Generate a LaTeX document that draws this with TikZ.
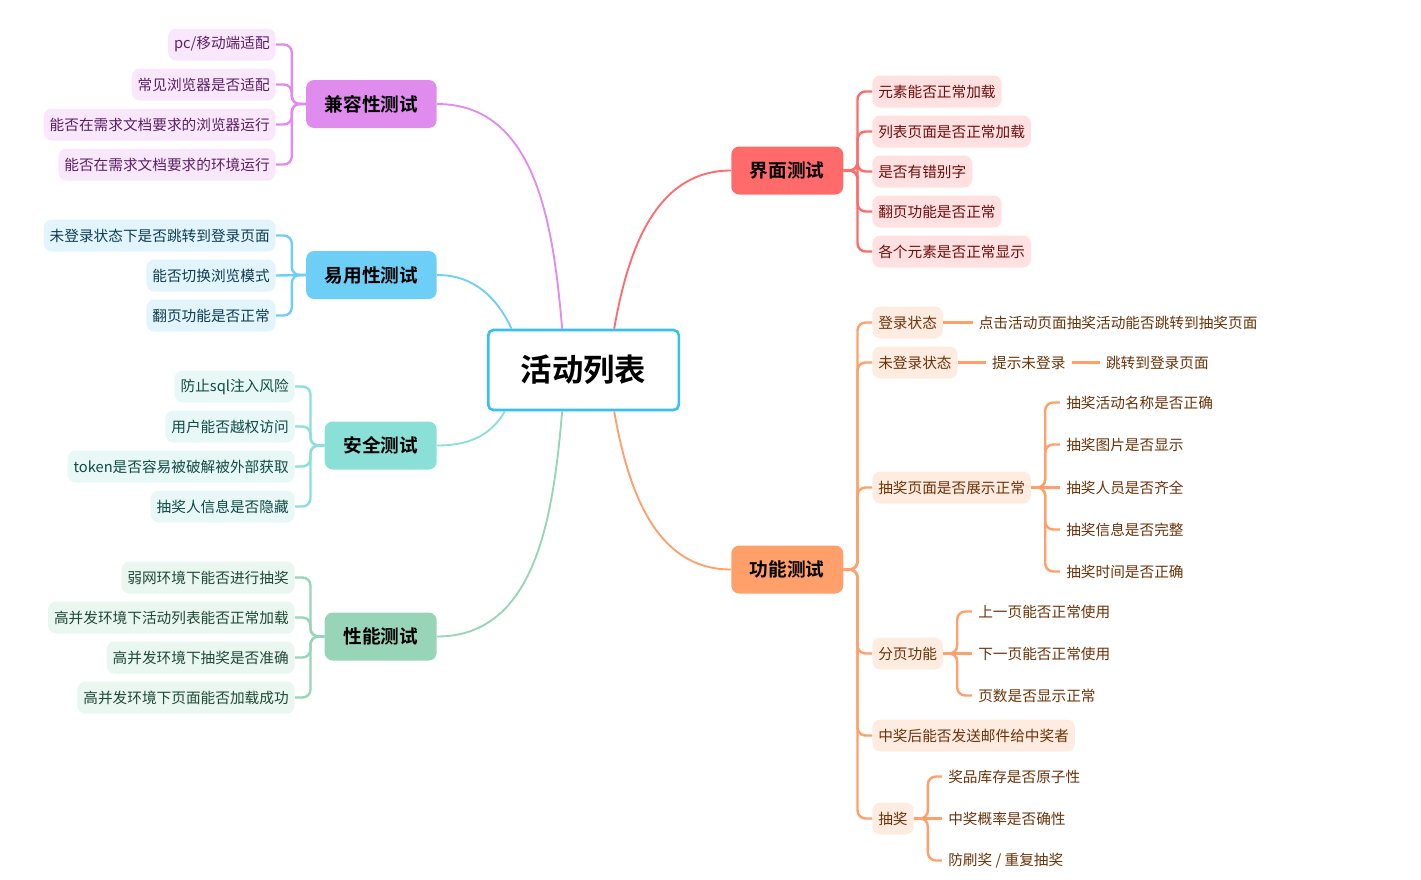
\documentclass[tikz,border=0pt]{standalone}
\usepackage{fontspec}
\setmainfont{Noto Sans CJK SC}[BoldFont={Noto Sans CJK SC Bold}]
\usepackage{tikz}
\usetikzlibrary{positioning}

\definecolor{cpurple}{HTML}{E08CEE}
\definecolor{cpurplebg}{HTML}{F9E8FC}
\definecolor{cpurpletx}{HTML}{5B1F66}
\definecolor{cblue}{HTML}{6ECFF6}
\definecolor{cbluebg}{HTML}{E2F5FD}
\definecolor{cbluetx}{HTML}{0E3C52}
\definecolor{cteal}{HTML}{8AE0D6}
\definecolor{ctealbg}{HTML}{E7F8F6}
\definecolor{ctealtx}{HTML}{0F4A44}
\definecolor{cgreen}{HTML}{98D4B8}
\definecolor{cgreenbg}{HTML}{EAF6F0}
\definecolor{cgreentx}{HTML}{1E4A35}
\definecolor{cred}{HTML}{FF6B6B}
\definecolor{credbg}{HTML}{FFE1E1}
\definecolor{credtx}{HTML}{6E0D0D}
\definecolor{corange}{HTML}{FFA06A}
\definecolor{corangebg}{HTML}{FFECE1}
\definecolor{corangetx}{HTML}{6B3208}
\definecolor{ccenter}{HTML}{3BBEF0}

\begin{document}
\begin{tikzpicture}[
    x=0.75pt, y=0.75pt,
    root/.style={draw=ccenter, line width=2pt, fill=white, rounded corners=4pt, minimum width=143pt, minimum height=60pt, font=\fontsize{23.5}{28}\selectfont\bfseries},
    topic/.style={rounded corners=6pt, minimum height=36pt, inner xsep=14pt, text=black, font=\fontsize{14}{17}\selectfont\bfseries},
    leaf/.style={rounded corners=6pt, minimum height=24pt, inner xsep=4.5pt, font=\fontsize{11}{13}\selectfont},
    plain/.style={inner xsep=4.5pt, minimum height=24pt, text=corangetx, font=\fontsize{11}{13}\selectfont},
    compleaf/.style={leaf, fill=cpurplebg, text=cpurpletx, anchor=east},
    easyleaf/.style={leaf, fill=cbluebg, text=cbluetx, anchor=east},
    safeleaf/.style={leaf, fill=ctealbg, text=ctealtx, anchor=east},
    perfleaf/.style={leaf, fill=cgreenbg, text=cgreentx, anchor=east},
    uileaf/.style={leaf, fill=credbg, text=credtx, anchor=west},
    funcleaf/.style={leaf, fill=corangebg, text=corangetx, anchor=west},
    link/.style={draw=#1, line width=1.4pt},
    brk/.style={draw=#1, line width=1.8pt, rounded corners=6pt}
]
    \useasboundingbox (0,0) rectangle (1421,-879);

    % centre and main topics
    \node[root] (list) at (583.5,-370) {活动列表};
    \node[topic, fill=cpurple, anchor=east] (compat) at (437,-104) {兼容性测试};
    \node[topic, fill=cblue, anchor=east] (easy) at (437,-275) {易用性测试};
    \node[topic, fill=cteal, anchor=east] (safe) at (437,-445.5) {安全测试};
    \node[topic, fill=cgreen, anchor=east] (perf) at (437,-636.5) {性能测试};
    \node[topic, fill=cred, anchor=west] (ui) at (731,-170.5) {界面测试};
    \node[topic, fill=corange, anchor=west] (func) at (731,-569.5) {功能测试};

    \draw[link=cpurple] ([xshift=-16pt]list.north) to[out=95, in=0] (compat.east);
    \draw[link=cblue] ([xshift=-54pt]list.north) to[out=115, in=0] (easy.east);
    \draw[link=cteal] ([xshift=-59pt]list.south) to[out=-120, in=0] (safe.east);
    \draw[link=cgreen] ([xshift=-16pt]list.south) to[out=-95, in=0] (perf.east);
    \draw[link=cred] ([xshift=23pt]list.north) to[out=80, in=180] (ui.west);
    \draw[link=corange] ([xshift=23pt]list.south) to[out=-80, in=180] (func.west);

    % 兼容性测试
    \node[compleaf] (c1) at (276,-44.5) {pc/移动端适配};
    \node[compleaf] (c2) at (276,-84.5) {常见浏览器是否适配};
    \node[compleaf] (c3) at (276,-124.5) {能否在需求文档要求的浏览器运行};
    \node[compleaf] (c4) at (276,-164.5) {能否在需求文档要求的环境运行};
    \draw[brk=cpurple] (compat.west) -- ++(-14,0) |- (c1.east);
    \draw[brk=cpurple] (compat.west) -- ++(-14,0) |- (c2.east);
    \draw[brk=cpurple] (compat.west) -- ++(-14,0) |- (c3.east);
    \draw[brk=cpurple] (compat.west) -- ++(-14,0) |- (c4.east);

    % 易用性测试
    \node[easyleaf] (e1) at (276,-235.5) {未登录状态下是否跳转到登录页面};
    \node[easyleaf] (e2) at (276,-275.5) {能否切换浏览模式};
    \node[easyleaf] (e3) at (276,-315.5) {翻页功能是否正常};
    \draw[brk=cblue] (easy.west) -- ++(-14,0) |- (e1.east);
    \draw[brk=cblue] (easy.west) -- (e2.east);
    \draw[brk=cblue] (easy.west) -- ++(-14,0) |- (e3.east);

    % 安全测试
    \node[safeleaf] (s1) at (295,-386.5) {防止sql注入风险};
    \node[safeleaf] (s2) at (295,-426.5) {用户能否越权访问};
    \node[safeleaf] (s3) at (295,-466.5) {token是否容易被破解被外部获取};
    \node[safeleaf] (s4) at (295,-506.5) {抽奖人信息是否隐藏};
    \draw[brk=cteal] (safe.west) -- ++(-14,0) |- (s1.east);
    \draw[brk=cteal] (safe.west) -- ++(-14,0) |- (s2.east);
    \draw[brk=cteal] (safe.west) -- ++(-14,0) |- (s3.east);
    \draw[brk=cteal] (safe.west) -- ++(-14,0) |- (s4.east);

    % 性能测试
    \node[perfleaf] (p1) at (295,-577.5) {弱网环境下能否进行抽奖};
    \node[perfleaf] (p2) at (295,-617.5) {高并发环境下活动列表能否正常加载};
    \node[perfleaf] (p3) at (295,-657.5) {高并发环境下抽奖是否准确};
    \node[perfleaf] (p4) at (295,-697.5) {高并发环境下页面能否加载成功};
    \draw[brk=cgreen] (perf.west) -- ++(-14,0) |- (p1.east);
    \draw[brk=cgreen] (perf.west) -- ++(-14,0) |- (p2.east);
    \draw[brk=cgreen] (perf.west) -- ++(-14,0) |- (p3.east);
    \draw[brk=cgreen] (perf.west) -- ++(-14,0) |- (p4.east);

    % 界面测试
    \node[uileaf] (u1) at (872,-91.5) {元素能否正常加载};
    \node[uileaf] (u2) at (872,-131.5) {列表页面是否正常加载};
    \node[uileaf] (u3) at (872,-171.5) {是否有错别字};
    \node[uileaf] (u4) at (872,-211.5) {翻页功能是否正常};
    \node[uileaf] (u5) at (872,-251.5) {各个元素是否正常显示};
    \draw[brk=cred] (ui.east) -- ++(14,0) |- (u1.west);
    \draw[brk=cred] (ui.east) -- ++(14,0) |- (u2.west);
    \draw[brk=cred] (ui.east) -- ++(14,0) |- (u3.west);
    \draw[brk=cred] (ui.east) -- ++(14,0) |- (u4.west);
    \draw[brk=cred] (ui.east) -- ++(14,0) |- (u5.west);

    % 功能测试
    \node[funcleaf] (login) at (872,-322.5) {登录状态};
    \node[funcleaf] (nologin) at (872,-362.5) {未登录状态};
    \node[funcleaf] (lpage) at (872,-487.5) {抽奖页面是否展示正常};
    \node[funcleaf] (paging) at (872,-653.5) {分页功能};
    \node[funcleaf] (mail) at (872,-735.5) {中奖后能否发送邮件给中奖者};
    \node[funcleaf] (draw) at (872,-818.5) {抽奖};
    \draw[brk=corange] (func.east) -- ++(14,0) |- (login.west);
    \draw[brk=corange] (func.east) -- ++(14,0) |- (nologin.west);
    \draw[brk=corange] (func.east) -- ++(14,0) |- (lpage.west);
    \draw[brk=corange] (func.east) -- ++(14,0) |- (paging.west);
    \draw[brk=corange] (func.east) -- ++(14,0) |- (mail.west);
    \draw[brk=corange] (func.east) -- ++(14,0) |- (draw.west);

    \node[plain, right=22pt of login] (login2) {点击活动页面抽奖活动能否跳转到抽奖页面};
    \node[plain, right=21pt of nologin] (nologin2) {提示未登录};
    \node[plain, right=21pt of nologin2] (nologin3) {跳转到登录页面};
    \draw[brk=corange] (login) -- (login2);
    \draw[brk=corange] (nologin) -- (nologin2);
    \draw[brk=corange] (nologin2) -- (nologin3);

    \node[plain, anchor=west] (lp1) at (1060,-402.5) {抽奖活动名称是否正确};
    \node[plain, anchor=west] (lp2) at (1060,-444.5) {抽奖图片是否显示};
    \node[plain, anchor=west] (lp3) at (1060,-487.5) {抽奖人员是否齐全};
    \node[plain, anchor=west] (lp4) at (1060,-529.5) {抽奖信息是否完整};
    \node[plain, anchor=west] (lp5) at (1060,-571.5) {抽奖时间是否正确};
    \draw[brk=corange] (lpage.east) -- ++(14,0) |- (lp1.west);
    \draw[brk=corange] (lpage.east) -- ++(14,0) |- (lp2.west);
    \draw[brk=corange] (lpage.east) -- (lp3.west);
    \draw[brk=corange] (lpage.east) -- ++(14,0) |- (lp4.west);
    \draw[brk=corange] (lpage.east) -- ++(14,0) |- (lp5.west);

    \node[plain, anchor=west] (pg1) at (972,-611.5) {上一页能否正常使用};
    \node[plain, anchor=west] (pg2) at (972,-653.5) {下一页能否正常使用};
    \node[plain, anchor=west] (pg3) at (972,-695.5) {页数是否显示正常};
    \draw[brk=corange] (paging.east) -- ++(14,0) |- (pg1.west);
    \draw[brk=corange] (paging.east) -- (pg2.west);
    \draw[brk=corange] (paging.east) -- ++(14,0) |- (pg3.west);

    \node[plain, anchor=west] (dr1) at (942,-776.5) {奖品库存是否原子性};
    \node[plain, anchor=west] (dr2) at (942,-818.5) {中奖概率是否确性};
    \node[plain, anchor=west] (dr3) at (942,-860.5) {防刷奖 / 重复抽奖};
    \draw[brk=corange] (draw.east) -- ++(14,0) |- (dr1.west);
    \draw[brk=corange] (draw.east) -- (dr2.west);
    \draw[brk=corange] (draw.east) -- ++(14,0) |- (dr3.west);
\end{tikzpicture}
\end{document}
